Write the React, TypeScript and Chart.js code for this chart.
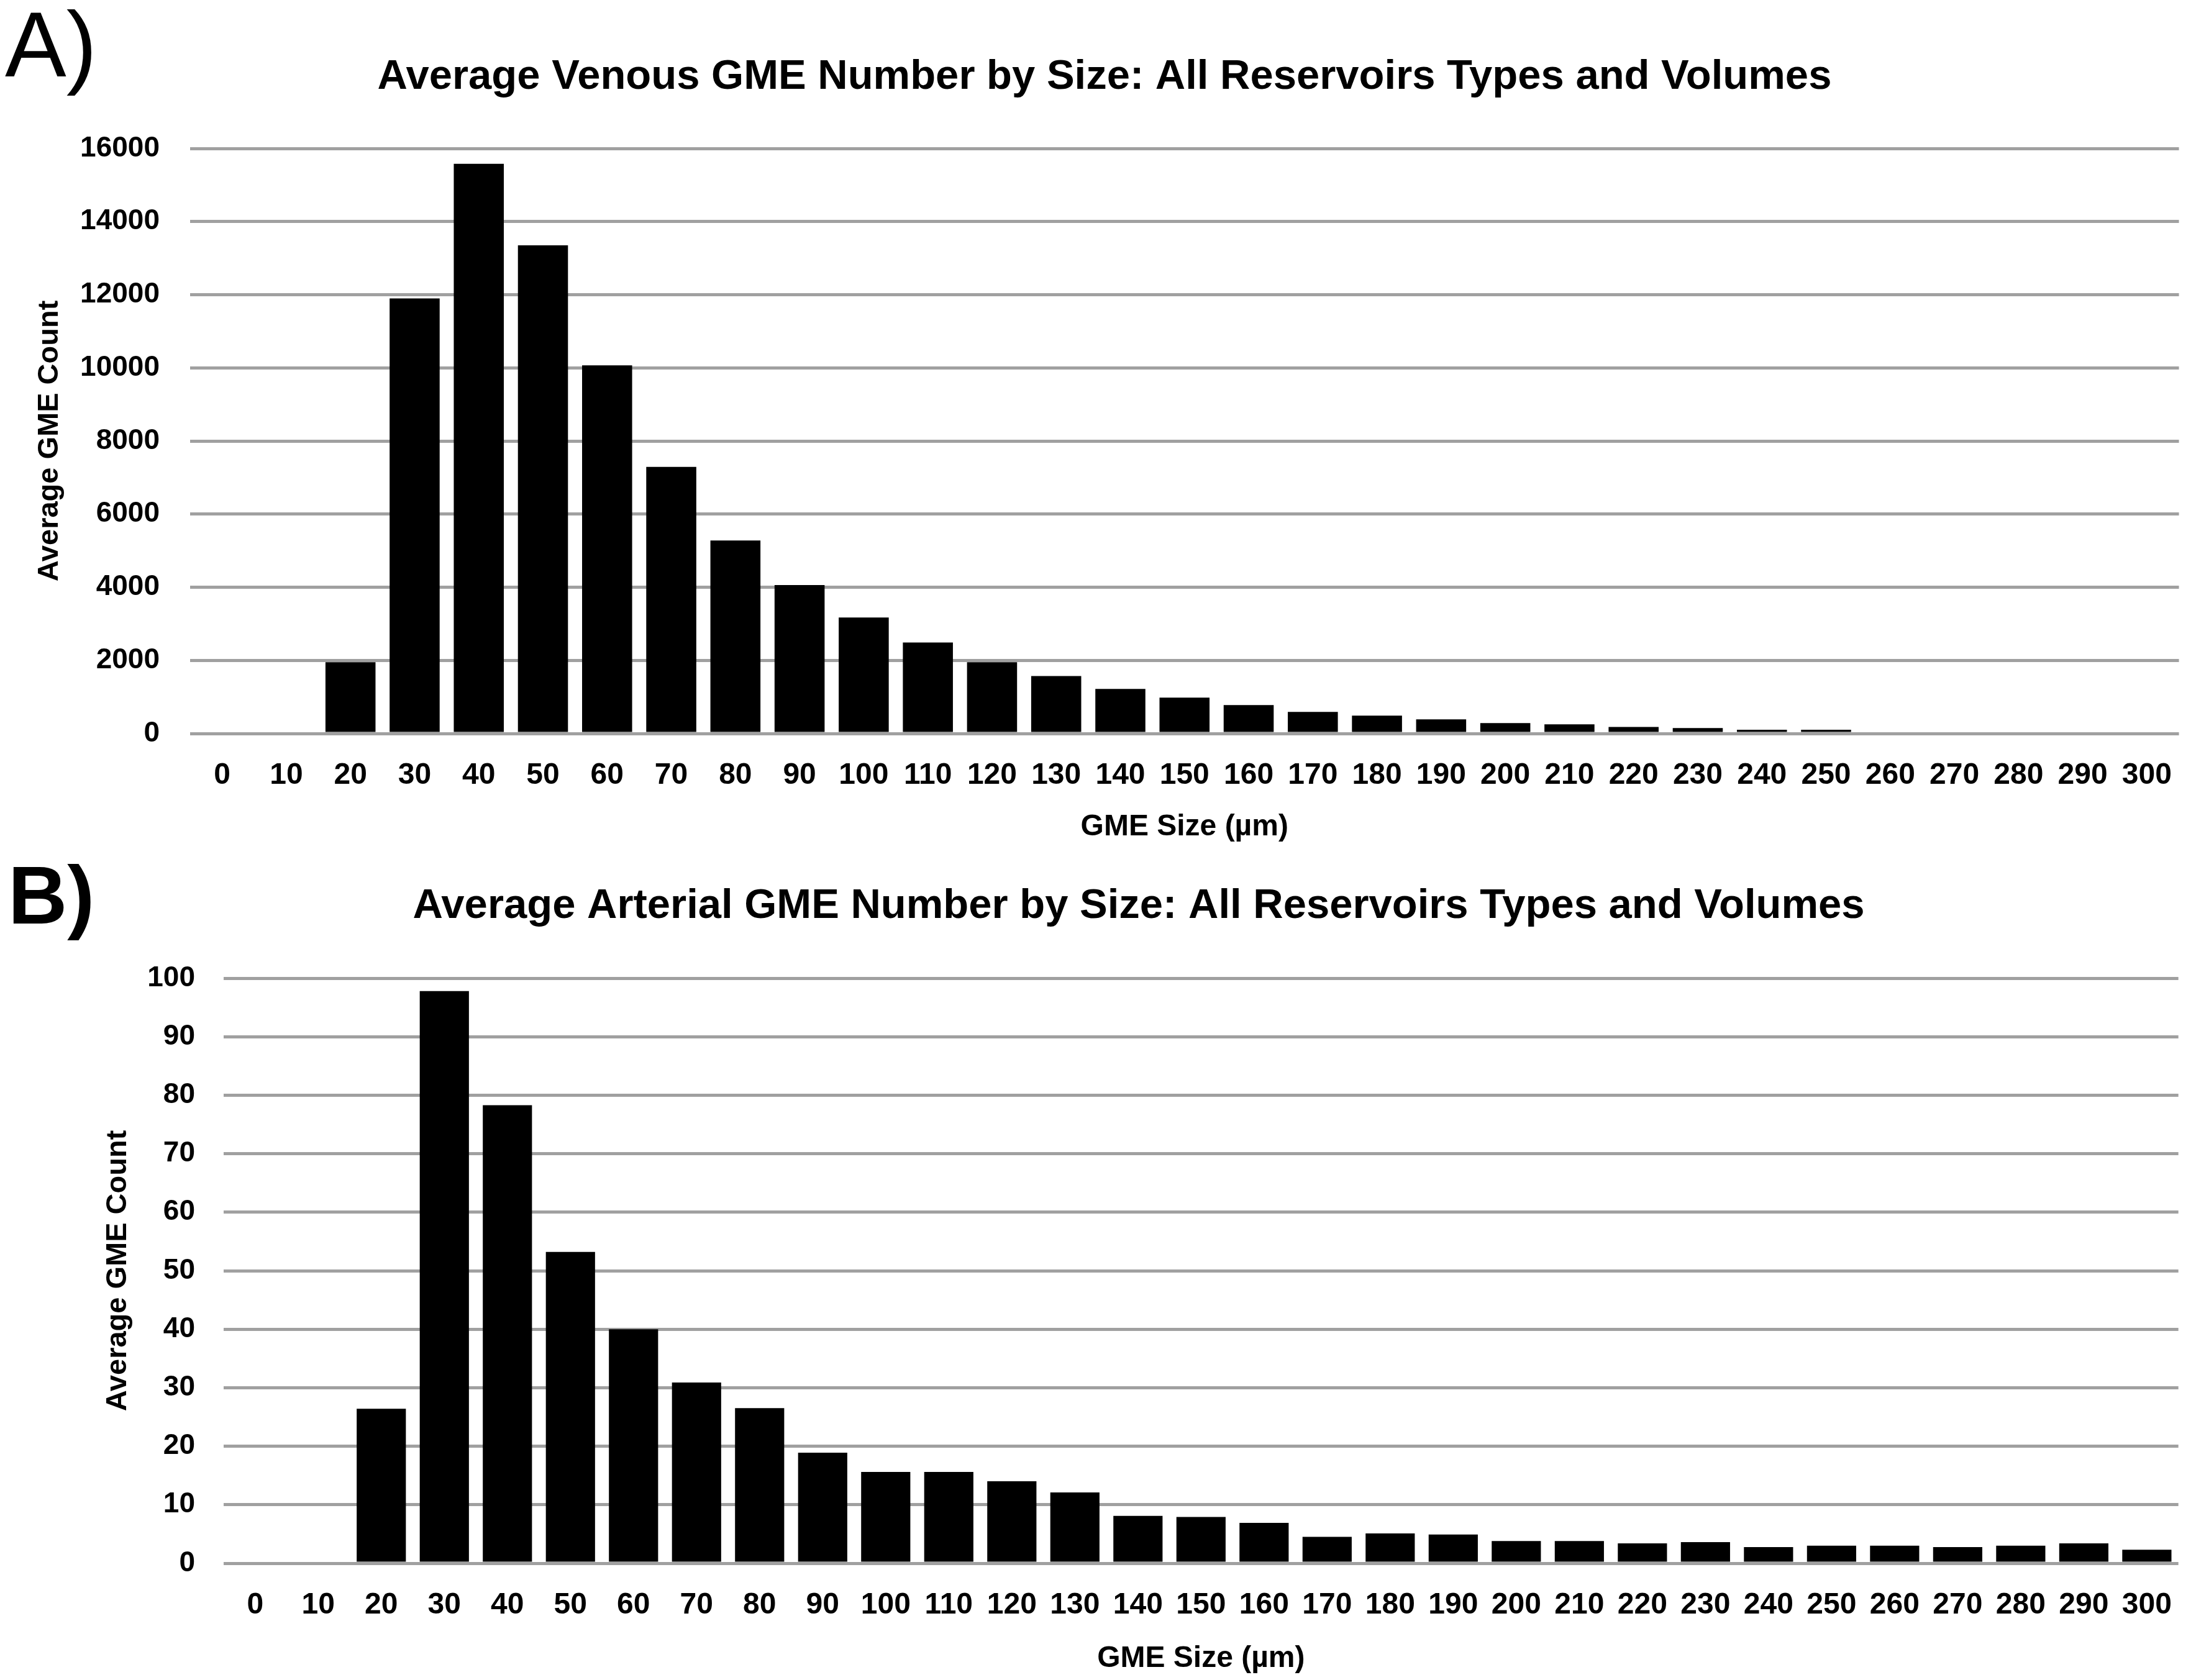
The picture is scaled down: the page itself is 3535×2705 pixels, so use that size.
import React, { useEffect, useRef } from "react";
import { Chart, registerables } from "chart.js";

Chart.register(...registerables);

// Size bins (µm) shared by both panels
const SIZES = [
  "0", "10", "20", "30", "40", "50", "60", "70", "80", "90", "100",
  "110", "120", "130", "140", "150", "160", "170", "180", "190", "200",
  "210", "220", "230", "240", "250", "260", "270", "280", "290", "300",
];

// Panel A: venous GME counts per size bin
const VENOUS_COUNTS = [
  0, 0, 1950, 11900, 15580, 13350, 10070, 7290, 5280, 4060, 3170,
  2490, 1950, 1570, 1220, 980, 775, 590, 490, 385, 285,
  250, 180, 150, 100, 100, 0, 0, 0, 0, 0,
];

// Panel B: arterial GME counts per size bin
const ARTERIAL_COUNTS = [
  0, 0, 26.4, 97.8, 78.3, 53.2, 40.0, 30.9, 26.5, 18.9, 15.6,
  15.6, 14.0, 12.1, 8.1, 7.9, 6.9, 4.5, 5.1, 4.9, 3.8,
  3.8, 3.4, 3.6, 2.75, 3.0, 3.0, 2.75, 3.0, 3.4, 2.3,
];

const VENOUS_TITLE = "Average Venous GME Number by Size: All Reservoirs Types and Volumes";
const ARTERIAL_TITLE = "Average Arterial GME Number by Size: All Reservoirs Types and Volumes";
const X_TITLE = "GME Size (µm)";
const Y_TITLE = "Average GME Count";

const FAMILY = "'Liberation Sans', Arial, sans-serif";
const GRID_GREY = "#a0a0a0";
const CANVAS_W = 3535;

// Draws the panel letter and the panel heading
const panelText = {
  id: "panelText",
  afterDraw(chart: any, _args: any, opts: any) {
    const ctx = chart.ctx;
    ctx.save();
    ctx.fillStyle = "#000";
    ctx.textBaseline = "alphabetic";
    ctx.textAlign = "left";
    ctx.font = opts.letterFont;
    ctx.fillText(opts.letter, opts.letterX, opts.letterY);
    ctx.textAlign = "center";
    ctx.font = opts.titleFont;
    ctx.fillText(opts.title, opts.titleX, opts.titleY);
    ctx.restore();
  },
};

type PanelProps = {
  top: number;
  height: number;
  values: number[];
  yMax: number;
  yStep: number;
  plotTop: number;
  plotLeft: number;
  plotBottom: number;
  yTickPad: number;
  yTitlePad: number;
  xTitlePadBottom: number;
  letter: string;
  letterFont: string;
  letterX: number;
  letterY: number;
  title: string;
  titleX: number;
  titleY: number;
};

function BarPanel(p: PanelProps) {
  const ref = useRef<HTMLCanvasElement>(null);

  useEffect(() => {
    if (!ref.current) return;
    const chart = new Chart(ref.current, {
      type: "bar",
      data: {
        labels: SIZES,
        datasets: [
          {
            data: p.values,
            backgroundColor: "#000000",
            borderWidth: 0,
            barPercentage: 0.78,
            categoryPercentage: 1.0,
          },
        ],
      },
      plugins: [panelText as any],
      options: {
        animation: false,
        responsive: false,
        devicePixelRatio: 1,
        layout: { padding: { top: p.plotTop, left: 0, right: 4, bottom: 0 } },
        plugins: {
          legend: { display: false },
          tooltip: { enabled: false },
          title: { display: false },
          panelText: {
            letter: p.letter,
            letterFont: p.letterFont,
            letterX: p.letterX,
            letterY: p.letterY,
            title: p.title,
            titleFont: `bold 67px ${FAMILY}`,
            titleX: p.titleX,
            titleY: p.titleY,
          },
        } as any,
        scales: {
          x: {
            grid: { display: false, drawTicks: false },
            border: { display: false },
            ticks: {
              autoSkip: false,
              maxRotation: 0,
              minRotation: 0,
              padding: 39,
              color: "#000",
              font: { family: FAMILY, size: 48, weight: "bold" },
            },
            title: {
              display: true,
              text: X_TITLE,
              color: "#000",
              font: { family: FAMILY, size: 48, weight: "bold" },
              padding: { top: 0, bottom: p.xTitlePadBottom },
            },
            afterFit: (scale: any) => {
              scale.height = p.height - p.plotBottom;
            },
          },
          y: {
            min: 0,
            max: p.yMax,
            grid: { color: GRID_GREY, lineWidth: 5, drawTicks: false },
            border: { display: false },
            ticks: {
              stepSize: p.yStep,
              padding: p.yTickPad,
              color: "#000",
              font: { family: FAMILY, size: 46, weight: "bold" },
              callback: (v: any) => String(v),
            },
            title: {
              display: true,
              text: Y_TITLE,
              color: "#000",
              font: { family: FAMILY, size: 47, weight: "bold" },
              padding: { top: p.yTitlePad, bottom: 0 },
            },
            afterFit: (scale: any) => {
              scale.width = p.plotLeft;
            },
          },
        },
      } as any,
    });
    return () => chart.destroy();
  }, []);

  return (
    <canvas
      ref={ref}
      width={CANVAS_W}
      height={p.height}
      style={{
        position: "absolute",
        left: 0,
        top: p.top,
        width: CANVAS_W,
        height: p.height,
        display: "block",
      }}
    />
  );
}

export default function App() {
  return (
    <div
      style={{
        position: "absolute",
        left: 0,
        top: 0,
        width: CANVAS_W,
        height: 2705,
        background: "#ffffff",
      }}
    >
      <BarPanel
        top={0}
        height={1365}
        values={VENOUS_COUNTS}
        yMax={16000}
        yStep={2000}
        plotTop={239}
        plotLeft={306}
        plotBottom={1181}
        yTickPad={49}
        yTitlePad={52}
        xTitlePadBottom={4}
        letter="A)"
        letterFont={`148px ${FAMILY}`}
        letterX={8}
        letterY={123}
        title={VENOUS_TITLE}
        titleX={1778}
        titleY={143}
      />
      <BarPanel
        top={1365}
        height={1340}
        values={ARTERIAL_COUNTS}
        yMax={100}
        yStep={10}
        plotTop={210}
        plotLeft={360}
        plotBottom={1152}
        yTickPad={46}
        yTitlePad={162}
        xTitlePadBottom={5}
        letter="B)"
        letterFont={`bold 132px ${FAMILY}`}
        letterX={13}
        letterY={122}
        title={ARTERIAL_TITLE}
        titleX={1833}
        titleY={113}
      />
    </div>
  );
}
